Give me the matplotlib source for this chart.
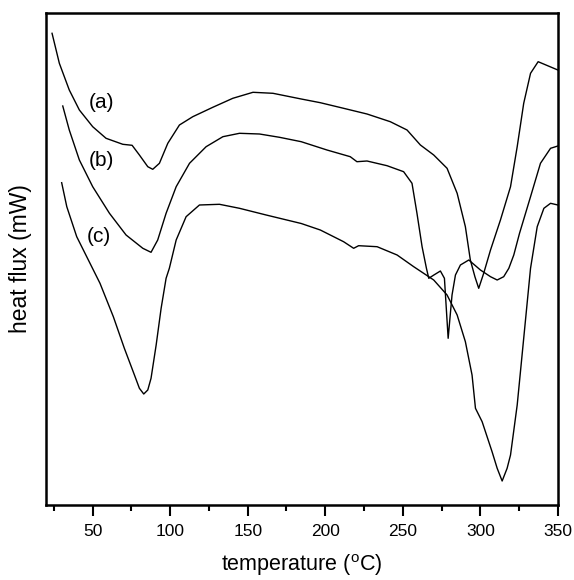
import matplotlib
matplotlib.use("Agg")
import matplotlib.pyplot as plt
from matplotlib.ticker import MultipleLocator

plt.rcParams['font.family'] = ['Liberation Sans', 'DejaVu Sans']

# temperature (°C) and heat flux (arbitrary units)
temp_a = [23.9, 28.6, 35.0, 41.5, 50.1, 58.7, 69.5, 75.5, 80.2, 85.6, 88.8, 93.1, 98.5, 106.0,
          114.6, 127.5, 140.4, 153.4, 166.3, 184.5, 196.8, 211.8, 226.9, 241.9, 252.7, 261.3,
          269.9, 278.5, 285.0, 290.3, 293.5, 296.5, 298.9, 302.1, 306.5, 312.9, 319.4, 323.7,
          327.9, 332.3, 337.2, 349.9]
flux_a = [471.7, 441.7, 415, 395, 378.3, 366.7, 360.7, 359.7, 350, 338.3, 335.7, 341.7, 361.7, 380,
          388.3, 397.7, 406.7, 412.7, 411.7, 406, 402.3, 396.7, 391, 383.3, 375, 360,
          350, 336.7, 311.7, 278.3, 245, 228, 216.7, 231.7, 255, 285, 318.3, 358.3,
          401.7, 431.7, 443.3, 435]

temp_b = [30.8, 35.0, 41.5, 50.1, 60.9, 71.6, 82.4, 87.7, 92.0, 97.4, 103.9, 112.5, 123.2, 134.0,
          144.7, 157.6, 170.5, 184.5, 201.1, 216.1, 220.4, 226.9, 239.8, 250.5, 255.9, 259.1,
          262.4, 265.2, 266.7, 270.0, 274.2, 276.8, 279.2, 281.7, 283.9, 287.1, 292.5, 300.0,
          306.5, 310.8, 315.0, 318.3, 321.5, 325.2, 332.3, 338.7, 345.2, 349.9]
flux_b = [399, 375, 345, 318.3, 291.7, 270, 256.7, 252.7, 265, 291.7, 318.3, 341.7, 358.3, 368.3,
          371.7, 371, 367.7, 363.3, 355, 348.3, 343.3, 344, 339.3, 333.3, 321.7, 291.7,
          258.3, 236.7, 226.7, 230, 234, 226.7, 166.7, 210, 230, 240, 245, 235,
          228.3, 225, 228.3, 236.7, 250, 271.7, 308.3, 341.7, 356.7, 359]

temp_c = [30.1, 33.4, 39.8, 47.3, 54.8, 63.4, 70.5, 77.0, 80.2, 83.0, 85.6, 87.7, 91.0, 94.2,
          97.4, 99.5, 103.9, 110.3, 118.9, 131.8, 144.7, 161.9, 184.5, 196.8, 211.8, 218.3,
          221.5, 233.4, 246.3, 257.0, 269.9, 278.5, 285.0, 290.3, 294.6, 296.8, 301.1, 307.5,
          310.8, 314.0, 317.2, 319.4, 323.7, 327.9, 332.3, 336.6, 340.9, 345.2, 349.9]
flux_c = [322.3, 298.3, 268.3, 245, 221.7, 188.3, 156.7, 130, 116.7, 111, 115, 126.7, 160, 196.7,
          226.7, 236.7, 265, 288.3, 300, 300.7, 296.7, 290, 281.5, 275, 263.3, 256.7,
          259.3, 258.3, 250, 238.3, 225, 210, 190, 163.3, 130, 96.7, 83.3, 53.3,
          36.7, 24, 36.7, 50, 100, 166.7, 236.7, 278.3, 296.7, 301.7, 300]

labels = ["(a)", "(b)", "(c)"]
label_pos = [(55.5, 403), (55.5, 345), (54.4, 268)]

x_ticks = [50, 100, 150, 200, 250, 300, 350]

fig = plt.figure(figsize=(5.74, 5.80), dpi=100)
ax = fig.add_axes([46 / 574, 1 - 505 / 580, (558 - 46) / 574, (505 - 13) / 580])

for t, f in [(temp_a, flux_a), (temp_b, flux_b), (temp_c, flux_c)]:
    ax.plot(t, f, color='black', lw=1.0)

for lab, (tx, ty) in zip(labels, label_pos):
    ax.text(tx, ty, lab, fontsize=15, ha='center', va='center')

ax.set_xlim(20, 350)
ax.set_ylim(0, 492)
ax.set_xticks(x_ticks)
ax.xaxis.set_minor_locator(MultipleLocator(25))
ax.set_yticks([])
ax.tick_params(axis='x', which='major', direction='out', length=8, width=1.5, labelsize=12.5, pad=6)
ax.tick_params(axis='x', which='minor', direction='out', length=4, width=1.5)
for s in ax.spines.values():
    s.set_linewidth(1.8)

ax.set_xlabel("temperature ($^\\mathregular{o}$C)", fontsize=15.5, labelpad=9)
ax.set_ylabel("heat flux (mW)", fontsize=16.5, labelpad=10)

fig.savefig("out.png", dpi=100)
